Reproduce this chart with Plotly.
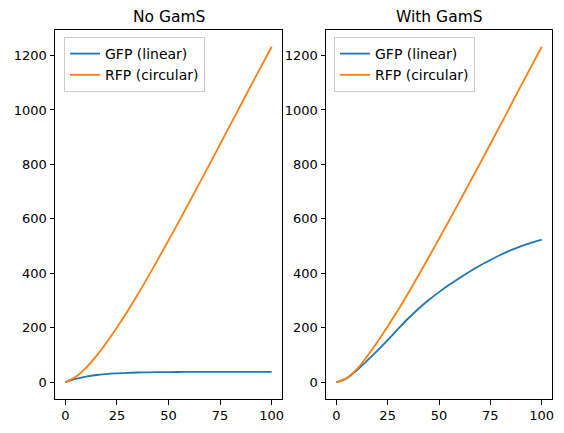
import plotly.graph_objects as go

x_vals = [0, 5, 10, 15, 20, 25, 30, 35, 40, 45, 50, 55, 60, 65, 70, 75, 80, 85, 90, 95, 100]

gfp_no_gams = [0, 12, 20.5, 26.5, 30, 32.5, 34.5, 35.7, 36.5, 37, 37.3, 37.6, 37.8, 37.9, 38, 38, 38, 38, 38, 38, 38]
rfp_no_gams = [0, 20, 53, 96, 146, 201, 259, 321, 386, 453, 521, 590, 660, 731, 802, 874, 946, 1018, 1090, 1161, 1232]

gfp_with_gams = [0, 14, 44, 79, 116, 155, 195, 234, 270, 302, 331, 358, 383, 407, 429, 449, 468, 485, 500, 513, 524]
rfp_with_gams = [0, 15, 48, 95, 148, 205, 264, 327, 392, 459, 527, 595, 664, 734, 804, 875, 946, 1018, 1090, 1161, 1232]

titles = ["No GamS", "With GamS"]
series_names = ["GFP (linear)", "RFP (circular)"]
colors = ["#1f77b4", "#ff7f0e"]
x_ticks = [0, 25, 50, 75, 100]
y_ticks = [0, 200, 400, 600, 800, 1000, 1200]

W, H = 564, 433
FONT = "DejaVu Sans"
L, R, T, B = 55, 12, 30, 34
PW = W - L - R
PH = H - T - B

fig = go.Figure()

panels = [
    (gfp_no_gams, rfp_no_gams, "x", "y", "legend"),
    (gfp_with_gams, rfp_with_gams, "x2", "y2", "legend2"),
]
for gfp, rfp, xa, ya, lg in panels:
    for name, vals, c in zip(series_names, [gfp, rfp], colors):
        fig.add_trace(go.Scatter(
            x=x_vals, y=vals, mode="lines", name=name,
            line=dict(color=c, width=1.8, shape="spline", smoothing=1.0),
            xaxis=xa, yaxis=ya, legend=lg,
        ))

xdom1 = [0, (282 - L) / PW]
xdom2 = [(326 - L) / PW, 1]

axis_common = dict(
    showline=True, mirror=True, linecolor="black", linewidth=1,
    ticks="outside", ticklen=4.5, tickwidth=1, tickcolor="black",
    showgrid=False, zeroline=False, automargin=False,
    tickfont=dict(family=FONT, size=13, color="black"),
)

def px_x(p):
    return (p - L) / PW

def px_y(p):
    return (H - B - p) / PH

legend_common = dict(
    xanchor="left", yanchor="top",
    bgcolor="rgba(255,255,255,0.8)", bordercolor="#cccccc", borderwidth=1,
    font=dict(family=FONT, size=14), tracegroupgap=0,
)

fig.update_layout(
    width=W, height=H,
    margin=dict(l=L, r=R, t=T, b=B, autoexpand=False),
    paper_bgcolor="white", plot_bgcolor="white",
    font=dict(family=FONT, size=13, color="black"),
    xaxis=dict(domain=xdom1, range=[-5, 105], tickvals=x_ticks, anchor="y", **axis_common),
    yaxis=dict(domain=[0, 1], range=[-61.6, 1293.6], tickvals=y_ticks, anchor="x", **axis_common),
    xaxis2=dict(domain=xdom2, range=[-5, 105], tickvals=x_ticks, anchor="y2", **axis_common),
    yaxis2=dict(domain=[0, 1], range=[-61.6, 1293.6], tickvals=y_ticks, anchor="x2", **axis_common),
    legend=dict(x=px_x(64), y=px_y(37), **legend_common),
    legend2=dict(x=px_x(334), y=px_y(37), **legend_common),
    showlegend=True,
)

for t, dom in zip(titles, [xdom1, xdom2]):
    fig.add_annotation(text=t, x=(dom[0] + dom[1]) / 2, y=px_y(17),
                       xref="paper", yref="paper", showarrow=False,
                       xanchor="center", yanchor="middle",
                       font=dict(family=FONT, size=15.5, color="black"))

fig.write_html("out.html", config={"displayModeBar": False},
               post_script="document.body.style.margin='0';")
